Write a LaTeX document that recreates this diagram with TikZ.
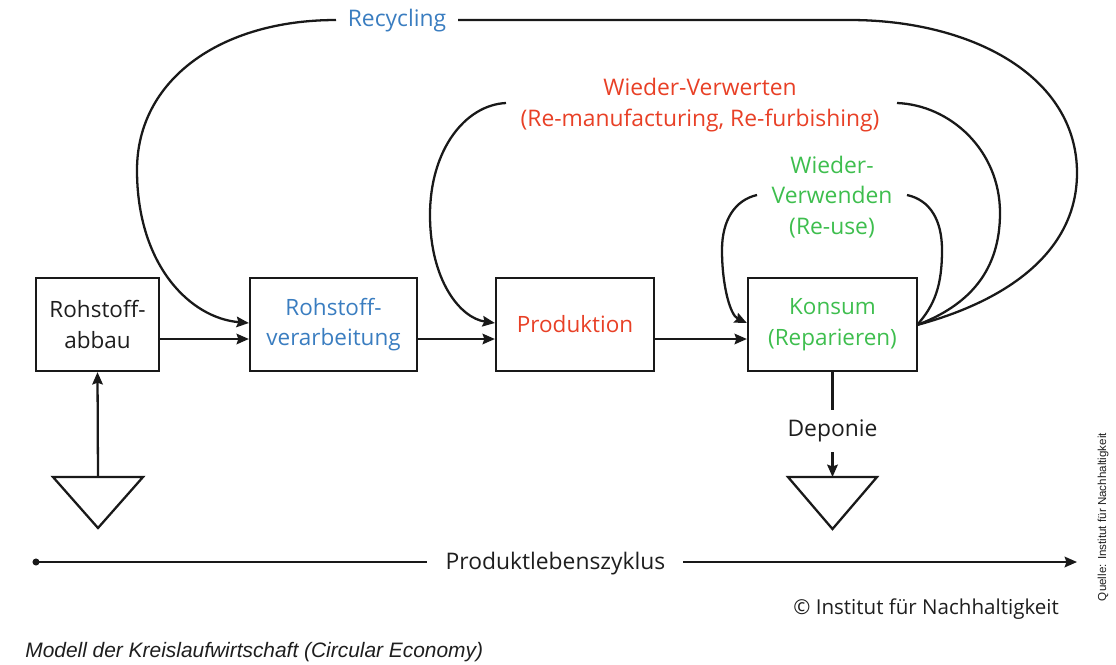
\documentclass[tikz,border=0pt]{standalone}
\usepackage{fontspec}
\setmainfont{Open Sans}
\newfontfamily\capfont{Liberation Sans}
\usetikzlibrary{arrows.meta}
\definecolor{cblue}{RGB}{58,125,192}
\definecolor{cred}{RGB}{232,64,38}
\definecolor{cgreen}{RGB}{62,190,78}
\definecolor{ctext}{RGB}{30,30,30}
\begin{document}
\begin{tikzpicture}[x=0.02cm,y=-0.02cm,
  line/.style={line width=1.3pt,draw=black!90},
  arr/.style={line,-{Stealth[length=7pt,width=6pt,inset=1pt]}},
  box/.style={draw=black!90,line width=1.3pt,rectangle,minimum height=1.86cm,align=center,inner sep=0pt,font=\fontsize{12.8}{17.3}\selectfont,text=ctext},
  lbl/.style={align=center,font=\fontsize{13}{17.5}\selectfont,inner sep=0pt}
]
\useasboundingbox (0,0) rectangle (1116,664);
% boxes
\node[box,minimum width=2.46cm] (abbau) at (97.5,324.5) {Rohstoff-\\abbau};
\node[box,minimum width=3.34cm,text=cblue] (verarb) at (333.5,324.5) {Rohstoff-\\verarbeitung};
\node[box,minimum width=3.16cm,text=cred] (prod) at (575,324.5) {Produktion};
\node[box,minimum width=3.38cm,text=cgreen] (konsum) at (832.5,324.5) {Konsum\\(Reparieren)};
% straight arrows
\draw[arr] (abbau.east |- 0,339) -- (verarb.west |- 0,339);
\draw[arr] (verarb.east |- 0,339) -- (prod.west |- 0,339);
\draw[arr] (prod.east |- 0,339) -- (konsum.west |- 0,339);
% triangles
\draw[line,line join=miter] (53,477) -- (143,477) -- (98,528) -- cycle;
\coordinate (t1) at (98,477);
\draw[arr] (t1) -- (abbau.south);
\draw[line,line join=miter] (788,477) -- (877,477) -- (832.5,529) -- cycle;
\coordinate (t2) at (832.5,477);
\node[lbl,text=ctext,minimum height=0.84cm] (dep) at (832.5,431) {Deponie};
\draw[line] (konsum.south) -- (dep.north);
\draw[arr] (dep.south) -- (t2);
% labels
\node[lbl,text=cblue] (rec) at (397,21) {Recycling};
\node[lbl,text=cred] (wvw) at (700,105) {Wieder-Verwerten\\(Re-manufacturing, Re-furbishing)};
\node[lbl,text=cgreen] (wvd) at (832,197) {Wieder-\\Verwenden\\(Re-use)};
% end points
\coordinate (kE) at (917,325);
% recycling loop
\draw[line] (kE) .. controls (1010,300) and (1077,250) .. (1077,173)
  .. controls (1077,75) and (970,20) .. (850,20) -- (458,20);
\draw[arr] (336,20) .. controls (220,20) and (137,80) .. (137,170)
  .. controls (137,265) and (190,318) .. (verarb.west |- 0,323);
% wieder-verwerten loop
\draw[line] (kE) .. controls (970,305) and (1000,270) .. (1000,213)
  .. controls (1000,150) and (950,105) .. (897,103);
\draw[arr] (506,103) .. controls (465,105) and (430,150) .. (430,215)
  .. controls (430,280) and (460,318) .. (prod.west |- 0,323);
% wieder-verwenden loop
\draw[line] (kE) .. controls (935,305) and (942,285) .. (942,250)
  .. controls (942,220) and (930,200) .. (907,195);
\draw[arr] (757,195) .. controls (735,200) and (722,220) .. (722,250)
  .. controls (722,285) and (730,315) .. (konsum.west |- 0,323);
% timeline
\node[lbl,text=ctext,inner xsep=0pt] (plz) at (555.5,564) {Produktlebenszyklus};
\coordinate (tl0) at (36,562);
\coordinate (tl1) at (1077,562);
\fill[black!90] (tl0) circle (2pt);
\draw[line] (tl0) -- (427,562);
\draw[arr] (683,562) -- (tl1);
% copyright
\node[lbl,text=ctext,anchor=west,font=\fontsize{11.7}{14}\selectfont] (copy) at (793,609) {\textcopyright{} Institut für Nachhaltigkeit};
% caption
\node[anchor=west,inner sep=0pt,text=ctext,font=\capfont\itshape\fontsize{11.9}{14}\selectfont] (cap) at (25,652) {Modell der Kreislaufwirtschaft (Circular Economy)};
% source
\node[rotate=90,inner sep=0pt,text=ctext,font=\capfont\fontsize{6.6}{8}\selectfont] (src) at (1103,517) {Quelle: Institut für Nachhaltigkeit};
\end{tikzpicture}
\end{document}
